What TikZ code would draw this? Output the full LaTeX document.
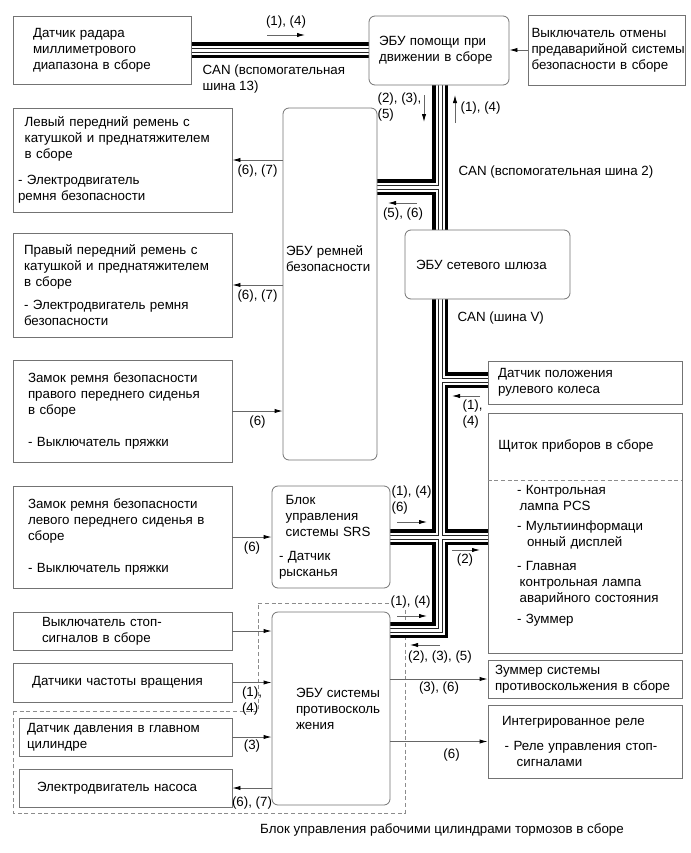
\documentclass[tikz,border=0pt]{standalone}
\usepackage{fontspec}
\setmainfont{Liberation Sans}
\usepackage{tikz}
\usetikzlibrary{positioning,arrows.meta,backgrounds}

\begin{document}
\begin{tikzpicture}[
  x=0.75pt, y=-0.75pt,
  font=\fontsize{10}{12}\selectfont,
  box/.style={draw=black!55,line width=0.6pt,fill=white,align=left,inner xsep=1pt,inner ysep=2pt},
  ecu/.style={box,rounded corners=4.5pt},
  link/.style={draw=black!60,line width=0.6pt,-{Latex[length=6pt,width=3.2pt,color=black]}},
  lbl/.style={inner sep=1pt},
  zone/.style={draw=black!45,line width=0.6pt,dash pattern=on 3pt off 2pt}
]
\useasboundingbox (0,0) rectangle (690,853);

% top row
\node[box,minimum width=133.5pt,minimum height=51pt,text width=103.5pt] (radar) at (102,50) {Датчик радара\\миллиметрового\\диапазона в сборе};
\node[ecu,minimum width=105pt,minimum height=51.75pt,text width=90pt] (help) at (439,50.5) {ЭБУ помощи при\\движении в сборе};
\node[box,minimum width=117.75pt,minimum height=52.5pt,text width=112.5pt] (cancel) at (606.5,50) {Выключатель отмены\\предаварийной~системы\\безопасности в сборе};

% left column
\node[box,minimum width=164.25pt,minimum height=78pt,text width=156.75pt] (beltL) at (122.5,160) {\hspace*{5pt}Левый передний ремень с\\\hspace*{5pt}катушкой и преднатяжителем\\\hspace*{5pt}в сборе\\[8pt]- Электродвигатель\\ремня безопасности};
\node[box,minimum width=164.25pt,minimum height=78pt,text width=147.75pt] (beltR) at (122.5,285) {Правый передний ремень с\\катушкой и преднатяжителем\\в сборе\\[5pt]- Электродвигатель ремня\\безопасности};
\node[box,minimum width=164.25pt,minimum height=76.5pt,text width=141.75pt] (buckleR) at (122.5,411) {Замок ремня безопасности\\правого переднего сиденья\\в сборе\\[12pt]- Выключатель пряжки};
\node[box,minimum width=164.25pt,minimum height=76.5pt,text width=141.75pt] (buckleL) at (122.5,537) {Замок ремня безопасности\\левого переднего сиденья в\\сборе\\[12pt]- Выключатель пряжки};
\node[box,minimum width=164.25pt,minimum height=28.5pt,text width=120.75pt] (stopsw) at (122.5,631) {Выключатель стоп-\\сигналов в сборе};
\node[box,minimum width=164.25pt,minimum height=29.25pt,text width=135.75pt] (wheelspd) at (122.5,682.5) {Датчики частоты вращения};
\node[box,minimum width=159.75pt,minimum height=28.5pt,text width=147.75pt] (mcpress) at (125.5,737) {Датчик давления в главном\\цилиндре};
\node[box,minimum width=159.75pt,minimum height=28.5pt,text width=132.75pt] (pump) at (125.5,788) {Электродвигатель насоса};

% middle column
\node[ecu,minimum width=70.5pt,minimum height=264pt,text width=66pt,text depth=50pt] (beltecu) at (330,284) {ЭБУ~ремней\\безопасности};
\node[ecu,minimum width=88.5pt,minimum height=76.5pt,text width=78pt] (srs) at (331,537) {\hspace*{5pt}Блок\\\hspace*{5pt}управления\\\hspace*{5pt}системы~SRS\\[6pt]- Датчик\\рысканья};
\node[ecu,minimum width=88.5pt,minimum height=144.75pt,text width=52.5pt] (tcecu) at (331,708.5) {ЭБУ~системы\\противосколь\\жения};

% right column
\node[ecu,minimum width=123.75pt,minimum height=51.75pt,text width=107.25pt] (gw) at (487.5,264.5) {ЭБУ сетевого шлюза};
\node[box,minimum width=145.5pt,minimum height=32.25pt,text width=130.5pt] (steer) at (585,382.5) {Датчик положения\\рулевого колеса};
\node[box,minimum width=145.5pt,minimum height=180pt,text width=102pt] (meter) at (585,533) {\hspace*{-14pt}Щиток~приборов~в~сборе\\[22pt]- Контрольная\\\hspace*{2pt}лампа PCS\\[3pt]- Мультиинформаци\\\hspace*{7.5pt}онный дисплей\\[6pt]- Главная\\\hspace*{2pt}контрольная лампа\\\hspace*{2pt}аварийного~состояния\\[4pt]- Зуммер};
\node[box,minimum width=145.5pt,minimum height=28.5pt,text width=135pt] (buzzer) at (585,679) {Зуммер системы\\противоскольжения~в~сборе};
\node[box,minimum width=145.5pt,minimum height=54.75pt,text width=124.5pt] (relay) at (585,741.5) {Интегрированное реле\\[7pt]\hspace*{2pt}- Реле управления стоп-\\\hspace*{11pt}сигналами};
\draw[zone] ([yshift=-51pt]meter.north west) -- ([yshift=-51pt]meter.north east);

\node (brakecap) at (442,830) {Блок управления рабочими цилиндрами тормозов в сборе};

% bus junctions
\coordinate (j1) at (440,187);
\coordinate (j2) at (440,380);
\coordinate (j3) at (440,537);
\coordinate (j4) at (440,630);

\begin{scope}[on background layer]
\draw[zone] (13,711) -- (258,711) -- (258,603) -- (405,603) -- (405,813) -- (13,813) -- cycle;
\foreach \w/\c in {12pt/black,6.75pt/white,3.75pt/black!85,2.25pt/white} {
  \draw[line width=\w,\c] (radar.east) -- (help.west |- radar.east);
  \draw[line width=\w,\c] (help.south -| j1) -- (j4) -- (tcecu.east |- j4);
  \draw[line width=\w,\c] (j1) -- (beltecu.east |- j1);
  \draw[line width=\w,\c] (j2) -- (steer.west |- j2);
  \draw[line width=\w,\c] (srs.east |- j3) -- (meter.west |- j3);
}
\end{scope}

% connectors
\draw[link] (cancel.west) -- (help.east |- cancel);
\draw[link] (beltecu.west |- beltL) -- node[lbl,below=2pt] (l1) {(6), (7)} (beltL.east);
\draw[link] (beltecu.west |- beltR) -- node[lbl,below=2pt] (l2) {(6), (7)} (beltR.east);
\draw[link] (buckleR.east) -- node[lbl,below=2pt] (l3) {(6)} (beltecu.west |- buckleR);
\draw[link] (buckleL.east) -- node[lbl,below=2pt] (l4) {(6)} (srs.west |- buckleL);
\draw[link] (stopsw.east) -- (tcecu.west |- stopsw);
\draw[link] (wheelspd.east) -- node[lbl,below=2pt,align=left] (l5) {(1),\\(4)} (tcecu.west |- wheelspd);
\draw[link] (mcpress.east) -- node[lbl,below=1pt] (l6) {(3)} (tcecu.west |- mcpress);
\draw[link] (tcecu.west |- pump) -- node[lbl,below=5pt] (l7) {(6), (7)} (pump.east);
\draw[link] (tcecu.east |- buzzer) -- node[lbl,below=1pt] (l8) {(3), (6)} (buzzer.west);
\draw[link] (tcecu.east |- relay) -- node[lbl,below=4pt,pos=0.63] (l9) {(6)} (relay.west);

% bus labels
\node[lbl] (t14a) at (286,22) {(1), (4)};
\node[lbl,anchor=west,align=left] (can13) at (201,79.5) {CAN (вспомогательная\\шина 13)};
\node[lbl,anchor=west,align=left] (t235a) at (376,107.5) {(2), (3),\\(5)};
\node[lbl,anchor=west] (t14b) at (459,108) {(1), (4)};
\node[lbl,anchor=west] (can2) at (457,172) {CAN (вспомогательная шина 2)};
\node[lbl] (t56) at (403,214) {(5), (6)};
\node[lbl,anchor=west] (canv) at (456,318) {CAN (шина V)};
\node[lbl,anchor=west,align=left] (t14c) at (461,414) {(1),\\(4)};
\node[lbl,anchor=west,align=left] (t146) at (390,500.5) {(1), (4)\\(6)};
\node[lbl] (t2) at (465,560) {(2)};
\node[lbl,anchor=west,fill=white] (t14d) at (389,602) {(1), (4)};
\node[lbl] (t235b) at (440,657) {(2), (3), (5)};

% direction arrows
\coordinate (f1) at (267,35);  \coordinate (g1) at (305,35);
\coordinate (f2) at (424,95);  \coordinate (g2) at (424,122);
\coordinate (f3) at (455,123); \coordinate (g3) at (455,95);
\coordinate (f4) at (417,203); \coordinate (g4) at (388,203);
\coordinate (f5) at (480,396); \coordinate (g5) at (452,396);
\coordinate (f6) at (397,522); \coordinate (g6) at (427,522);
\coordinate (f7) at (452,550); \coordinate (g7) at (480,550);
\coordinate (f8) at (397,616); \coordinate (g8) at (427,616);
\coordinate (f9) at (440,645); \coordinate (g9) at (410,645);
\foreach \i in {1,...,9}
  \draw[link] (f\i) -- (g\i);
\end{tikzpicture}
\end{document}
